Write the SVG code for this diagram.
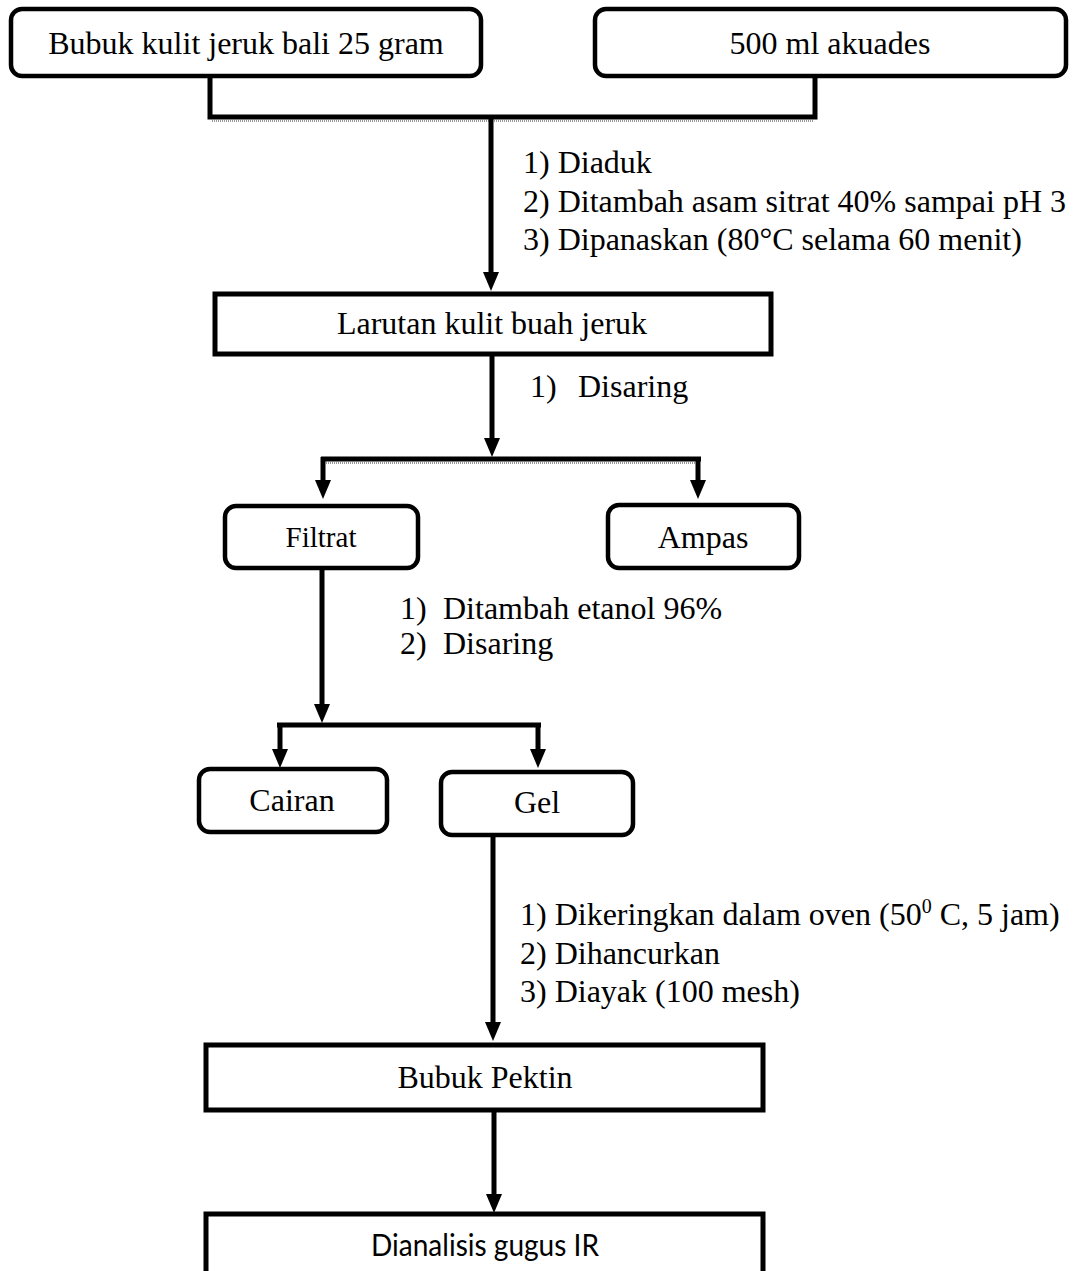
<svg xmlns="http://www.w3.org/2000/svg" width="1076" height="1271" viewBox="0 0 1076 1271">
  <style>
    .rbox { fill: #fff; stroke: #000; stroke-width: 4.5; }
    .box { fill: #fff; stroke: #000; stroke-width: 5; }
    .t { font-family: "Liberation Serif", "Times New Roman", serif; font-size: 32px; fill: #000; }
    .c { text-anchor: middle; }
    .s { font-family: Lato, "Liberation Sans", sans-serif; font-size: 30px; fill: #000; text-anchor: middle; }
    .ln { fill: none; stroke: #000; stroke-width: 5; }
    .arr { fill: none; stroke: #000; stroke-width: 5; marker-end: url(#ah); }
    .hatch { fill: none; stroke: #9a9a9a; stroke-width: 2; stroke-dasharray: 1 1; }
  </style>
  <defs>
    <marker id="ah" markerUnits="userSpaceOnUse" markerWidth="19" markerHeight="16" refX="4" refY="8" orient="auto" viewBox="0 0 19 16">
      <path d="M0,0 L19,8 L0,16 Z" fill="#000"/>
    </marker>
  </defs>
  <rect width="1076" height="1271" fill="#fff"/>

  <g id="connectors">
    <path class="ln" d="M210,77 V117 H815 V77"/>
    <line class="hatch" x1="212" y1="121" x2="813" y2="121"/>
    <line class="arr" x1="491" y1="117" x2="491" y2="276"/>
    <line class="arr" x1="492" y1="354" x2="492" y2="442"/>
    <line class="ln" x1="321" y1="459" x2="701" y2="459"/>
    <line class="hatch" x1="324" y1="463" x2="698" y2="463"/>
    <line class="arr" x1="323" y1="457" x2="323" y2="484"/>
    <line class="arr" x1="698" y1="457" x2="698" y2="484"/>
    <line class="arr" x1="322" y1="568" x2="322" y2="708"/>
    <line class="ln" x1="277" y1="725" x2="541" y2="725"/>
    <line class="arr" x1="280" y1="723" x2="280" y2="753"/>
    <line class="arr" x1="538" y1="723" x2="538" y2="753"/>
    <line class="arr" x1="493" y1="835" x2="493" y2="1026"/>
    <line class="arr" x1="494" y1="1110" x2="494" y2="1198"/>
  </g>

  <g id="node-bubuk-kulit">
    <rect class="rbox" x="11" y="9" width="470" height="67" rx="11"/>
    <text class="t c" x="246" y="54">Bubuk kulit jeruk bali 25 gram</text>
  </g>
  <g id="node-akuades">
    <rect class="rbox" x="595" y="9" width="471" height="67" rx="11"/>
    <text class="t c" x="830" y="54">500 ml akuades</text>
  </g>

  <g id="label-step1">
    <text class="t" x="523" y="173">1) Diaduk</text>
    <text class="t" x="523" y="212">2) Ditambah asam sitrat 40% sampai pH 3</text>
    <text class="t" x="523" y="250">3) Dipanaskan (80°C selama 60 menit)</text>
  </g>

  <g id="node-larutan">
    <rect class="box" x="215" y="294" width="556" height="60"/>
    <text class="t c" x="492" y="334">Larutan kulit buah jeruk</text>
  </g>

  <g id="label-step2">
    <text class="t" x="530" y="397">1)</text>
    <text class="t" x="578" y="397">Disaring</text>
  </g>

  <g id="node-filtrat">
    <rect class="rbox" x="225" y="506" width="193" height="62" rx="11"/>
    <text class="t c" x="321" y="547" style="font-size:29px">Filtrat</text>
  </g>
  <g id="node-ampas">
    <rect class="rbox" x="608" y="505" width="191" height="63" rx="11"/>
    <text class="t c" x="703" y="548">Ampas</text>
  </g>

  <g id="label-step3">
    <text class="t" x="400" y="619">1)</text>
    <text class="t" x="443" y="619">Ditambah etanol 96%</text>
    <text class="t" x="400" y="654">2)</text>
    <text class="t" x="443" y="654">Disaring</text>
  </g>

  <g id="node-cairan">
    <rect class="rbox" x="199" y="769" width="188" height="63" rx="11"/>
    <text class="t c" x="292" y="811">Cairan</text>
  </g>
  <g id="node-gel">
    <rect class="rbox" x="441" y="772" width="192" height="63" rx="11"/>
    <text class="t c" x="537" y="813">Gel</text>
  </g>

  <g id="label-step4">
    <text class="t" x="520" y="925">1) Dikeringkan dalam oven (50<tspan dy="-12" style="font-size:20px">0</tspan><tspan dy="12"> C, 5 jam)</tspan></text>
    <text class="t" x="520" y="964">2) Dihancurkan</text>
    <text class="t" x="520" y="1002">3) Diayak (100 mesh)</text>
  </g>

  <g id="node-bubuk-pektin">
    <rect class="box" x="206" y="1045" width="557" height="65"/>
    <text class="t c" x="485" y="1088">Bubuk Pektin</text>
  </g>

  <g id="node-dianalisis">
    <rect class="box" x="206" y="1214" width="557" height="100"/>
    <text class="s" x="485" y="1256" textLength="228" lengthAdjust="spacingAndGlyphs">Dianalisis gugus IR</text>
  </g>
</svg>
